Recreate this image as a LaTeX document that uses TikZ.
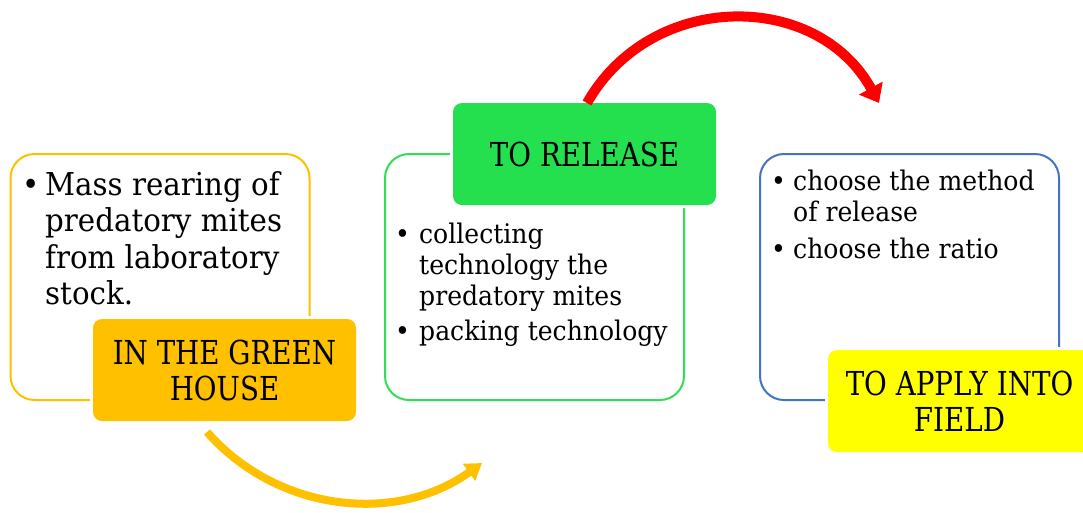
\documentclass[tikz,border=0pt]{standalone}
\usepackage{fontspec}
\setmainfont{DejaVu Serif}[FakeStretch=0.93]
\newfontfamily\labfont{DejaVu Serif}[FakeStretch=0.84]
\usetikzlibrary{arrows.meta}
\definecolor{gold}{HTML}{FFC000}
\definecolor{gbord}{HTML}{33DD55}
\definecolor{gfill}{HTML}{24E04F}
\definecolor{bbord}{HTML}{4472C4}
\definecolor{yfill}{HTML}{FFFF00}
\definecolor{rarrow}{HTML}{FF0000}
\tikzset{
  bigbox/.style={draw=#1, line width=2pt, rounded corners=24pt, fill=white,
    minimum width=299pt, minimum height=246pt, inner sep=0pt},
  labbox/.style={fill=#1, rounded corners=9pt, minimum width=263pt, minimum height=102pt,
    inner sep=0pt, align=center, font=\labfont\fontsize{33}{36}\selectfont,
    preaction={draw=white, line width=6pt}},
  bodytext/.style={anchor=base west, inner sep=0pt},
  flow/.style={line width=#1, line cap=butt}
}
\newcommand{\bul}[1]{\makebox[#1][l]{•}}
\begin{document}
\begin{tikzpicture}[x=1pt,y=-1pt]
\useasboundingbox (0,0) rectangle (1083,512);
% boxes
\node[bigbox=gold] (box1) at (160,277) {};
\node[bigbox=gbord] (box2) at (534.5,277) {};
\node[bigbox=bbord] (box3) at (909.5,277) {};
% body texts
\node[bodytext, font=\fontsize{31.5}{36.5}\selectfont] (t1) at (22,195)
  {\begin{tabular}[t]{@{}l@{}}
   \bul{23pt}Mass rearing of\\
   \hspace*{23pt}predatory mites\\
   \hspace*{23pt}from laboratory\\
   \hspace*{23pt}stock.
   \end{tabular}};
\node[bodytext, font=\fontsize{27}{31}\selectfont] (t2) at (395,243)
  {\begin{tabular}[t]{@{}l@{}}
   \bul{24pt}collecting\\
   \hspace*{24pt}technology the\\
   \hspace*{24pt}predatory mites\\[4pt]
   \bul{24pt}packing technology
   \end{tabular}};
\node[bodytext, font=\fontsize{27}{31}\selectfont] (t3) at (771,190)
  {\begin{tabular}[t]{@{}l@{}}
   \bul{22pt}choose the method\\
   \hspace*{22pt}of release\\[6pt]
   \bul{22pt}choose the ratio
   \end{tabular}};
% labels
\node[labbox=gold] (lab1) at (224.5,370) {IN THE GREEN\\HOUSE};
\node[labbox=gfill] (lab2) at (584.5,154) {TO RELEASE};
\node[labbox=yfill] (lab3) at (959.5,401) {TO APPLY INTO\\FIELD};
% arrows
\coordinate (r0) at (587,103);
\coordinate (r1) at (879,103);
\draw[flow=10pt, draw=rarrow, -{Triangle[width=26pt,length=17pt]}]
  (r0) .. controls (651,-10) and (817,-10) .. (r1);
\coordinate (g0) at (207,432);
\coordinate (g1) at (482,463);
\draw[flow=8pt, draw=gold, -{Triangle[width=20pt,length=16pt]}]
  (g0) .. controls (277.7,512.3) and (396.4,524.7) .. (g1);
\end{tikzpicture}
\end{document}
